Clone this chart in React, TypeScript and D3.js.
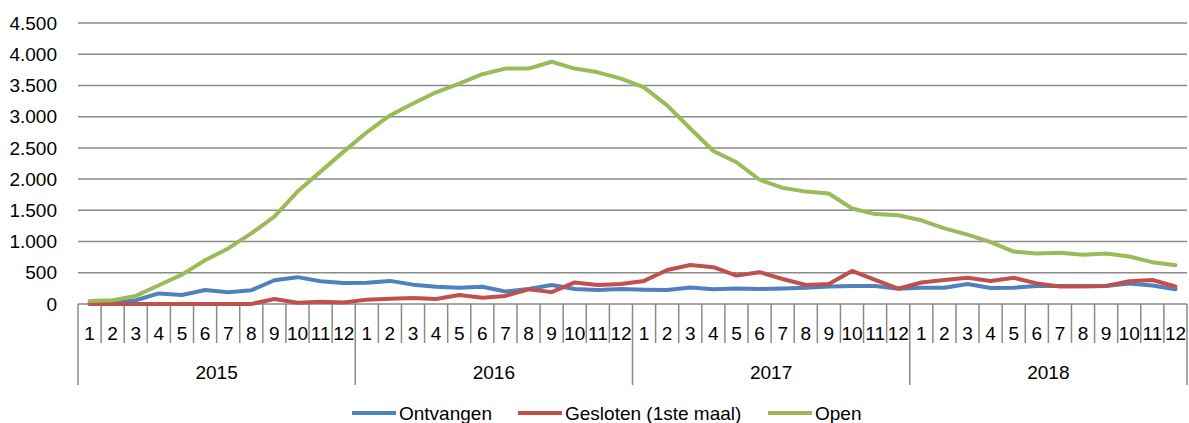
import React from "react";
import * as d3 from "d3";

const years = ["2015", "2016", "2017", "2018"];
const months = ["1", "2", "3", "4", "5", "6", "7", "8", "9", "10", "11", "12"];
const yTicks = [0, 500, 1000, 1500, 2000, 2500, 3000, 3500, 4000, 4500];

const ontvangen = [
  10, 20, 60, 170, 145, 225, 190, 220, 380, 430, 365, 335,
  340, 370, 310, 275, 260, 275, 200, 240, 305, 240, 225, 240,
  230, 225, 265, 235, 250, 240, 250, 260, 280, 290, 290, 245,
  260, 260, 320, 255, 260, 290, 290, 285, 290, 330, 295, 235,
];
const gesloten = [
  0, 0, 0, 0, 0, 0, 0, 0, 80, 20, 35, 25,
  70, 85, 95, 80, 145, 100, 130, 235, 190, 345, 305, 320,
  370, 545, 625, 590, 455, 510, 400, 305, 320, 530, 385, 245,
  345, 385, 420, 370, 420, 330, 280, 285, 290, 365, 385, 280,
];
const open = [
  50, 60, 130, 300, 470, 700, 890, 1130, 1400, 1800, 2120, 2440,
  2750, 3020, 3210, 3390, 3530, 3680, 3770, 3770, 3880, 3770, 3710, 3610,
  3470, 3180, 2810, 2450, 2270, 1990, 1860, 1800, 1770, 1530, 1440, 1420,
  1340, 1210, 1110, 990, 840, 810, 820, 790, 810, 760, 670, 620,
];

const seriesNames = ["Ontvangen", "Gesloten (1ste maal)", "Open"];
const seriesColors = ["#4F81BD", "#C0504D", "#9BBB59"];
const seriesData = [ontvangen, gesloten, open];

const W = 1189;
const H = 423;
const left = 78;
const right = 1187;
const top = 23;
const bottom = 304;
const FONT = "'Liberation Sans', Arial, sans-serif";
const GRID = "#8a8a8a";

export default function App() {
  const cats = years.flatMap((y) => months.map((m) => `${y}-${m}`));
  const x = d3.scaleBand<string>().domain(cats).range([left, right]).padding(0);
  const y = d3.scaleLinear().domain([0, 4500]).range([bottom, top]);
  const cx = (i: number) => (x(cats[i]) as number) + x.bandwidth() / 2;
  const line = d3
    .line<number>()
    .x((_, i) => cx(i))
    .y((d) => y(d));
  const fmt = (v: number) => d3.format(",")(v).replace(/,/g, ".");

  const bw = x.bandwidth();
  const boundaries = d3.range(cats.length + 1);

  const legendX = [352, 518, 768];

  return (
    <svg width={W} height={H} style={{ position: "absolute", left: 0, top: 0 }} fontFamily={FONT}>
      <rect x={0} y={0} width={W} height={H} fill="#fff" />
      {yTicks.map((t) => (
        <g key={t}>
          {t > 0 && (
            <line x1={left} x2={right} y1={y(t)} y2={y(t)} stroke={GRID} strokeWidth={1.5} />
          )}
          <text x={57} y={y(t)} dy="0.35em" textAnchor="end" fontSize={19} fill="#000">
            {fmt(t)}
          </text>
        </g>
      ))}
      {/* category axis */}
      <line x1={left} x2={right} y1={bottom} y2={bottom} stroke={GRID} strokeWidth={1.5} />
      {boundaries.map((i) => {
        const bx = left + i * bw;
        const isYear = i % 12 === 0;
        return (
          <line
            key={i}
            x1={bx}
            x2={bx}
            y1={bottom}
            y2={isYear ? 385 : 343}
            stroke={GRID}
            strokeWidth={1.5}
          />
        );
      })}
      {cats.map((c, i) => (
        <text key={c} x={cx(i)} y={333} dy="0.35em" textAnchor="middle" fontSize={19} fill="#000">
          {months[i % 12]}
        </text>
      ))}
      {years.map((yr, k) => (
        <text
          key={yr}
          x={left + (k * 12 + 6) * bw}
          y={372}
          dy="0.35em"
          textAnchor="middle"
          fontSize={19}
          fill="#000"
        >
          {yr}
        </text>
      ))}
      {seriesData.map((d, k) => (
        <path
          key={k}
          d={line(d) || ""}
          fill="none"
          stroke={seriesColors[k]}
          strokeWidth={4}
          strokeLinejoin="round"
          strokeLinecap="round"
        />
      ))}
      {seriesNames.map((n, k) => (
        <g key={n}>
          <line
            x1={legendX[k]}
            x2={legendX[k] + 44}
            y1={413}
            y2={413}
            stroke={seriesColors[k]}
            strokeWidth={4}
          />
          <text x={legendX[k] + 47} y={413} dy="0.35em" fontSize={19} fill="#000">
            {n}
          </text>
        </g>
      ))}
    </svg>
  );
}
